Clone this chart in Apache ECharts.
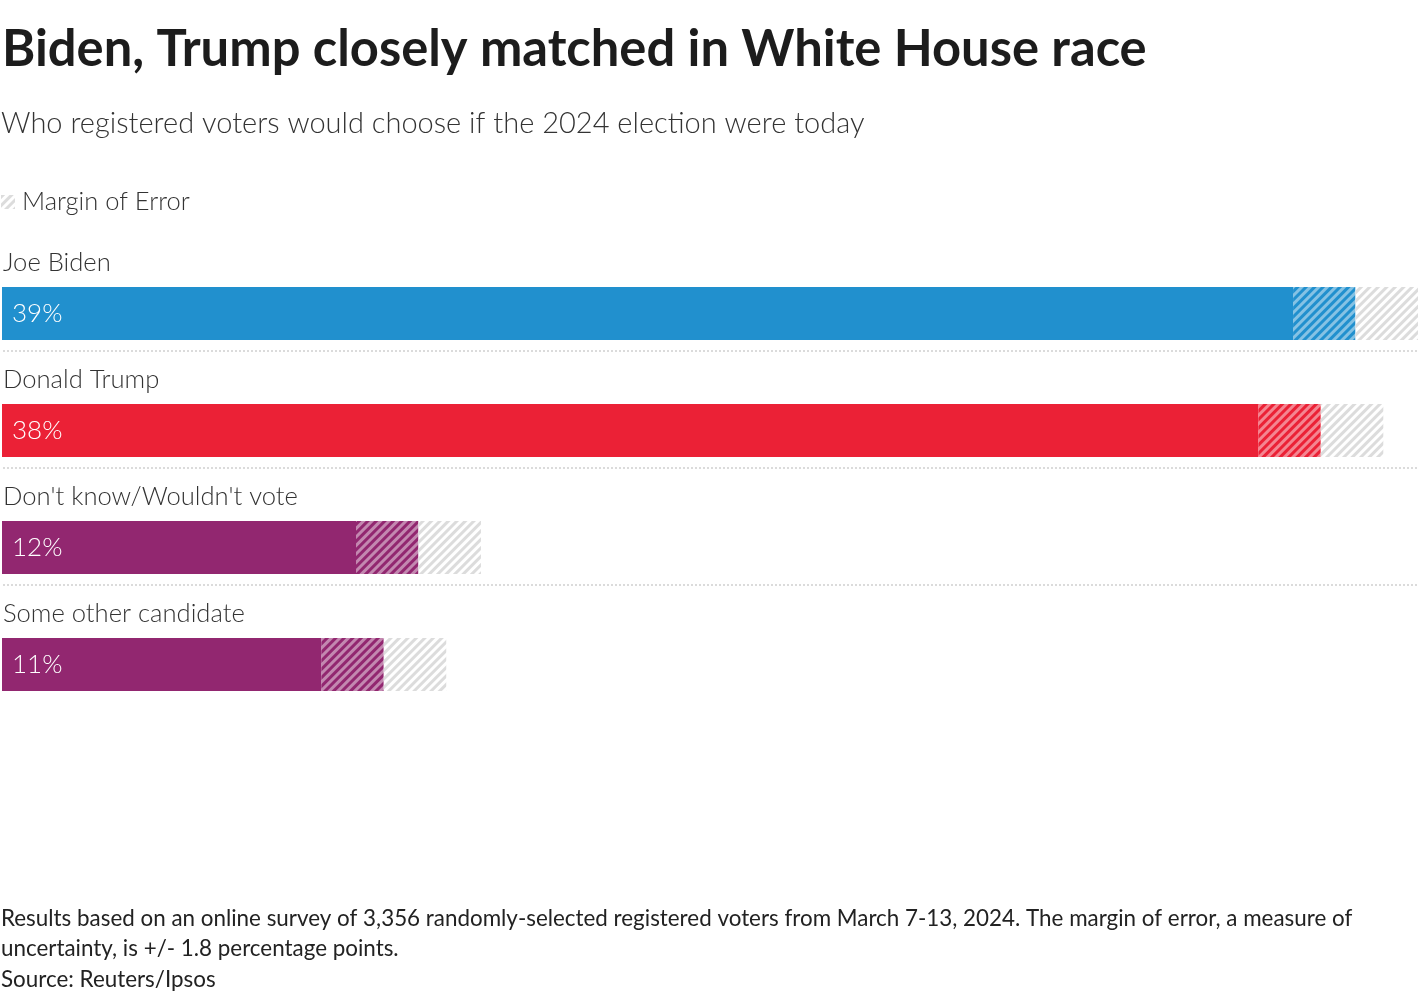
<!DOCTYPE html>
<html><head><meta charset="utf-8">
<script src="https://cdn.jsdelivr.net/npm/echarts@6/dist/echarts.min.js"></script>
<style>html,body{margin:0;padding:0;background:#fff}#c{width:1420px;height:1000px}</style>
</head><body><div id="c"></div>
<script>
const categories = ["Joe Biden", "Donald Trump", "Don't know/Wouldn't vote", "Some other candidate"];
const values = [39, 38, 12, 11];
const marginOfError = 1.8;
const barColors = ["#2190ce", "#eb2136", "#922770", "#922770"];
const titleText = "Biden, Trump closely matched in White House race";
const subtitleText = "Who registered voters would choose if the 2024 election were today";
const noteText = "Results based on an online survey of 3,356 randomly-selected registered voters from March 7-13, 2024. The margin of error, a measure of\nuncertainty, is +/- 1.8 percentage points.";
const sourceText = "Source: Reuters/Ipsos";

const FONT = "Lato";
const chart = echarts.init(document.getElementById('c'));

const solid = values.map((v, i) => ({ value: v - marginOfError, itemStyle: { color: barColors[i] } }));
const inner = values.map((v, i) => ({ value: marginOfError, itemStyle: { color: barColors[i] } }));
const outer = values.map(() => marginOfError);

chart.setOption({
  backgroundColor: '#fff',
  animation: false,
  title: [
    { text: titleText, left: -3, top: 19, textStyle: { fontFamily: FONT, fontWeight: 'bold', fontSize: 50.7, color: '#1c1c1c' } },
    { text: subtitleText, left: -4, top: 104, textStyle: { fontFamily: FONT, fontWeight: 300, fontSize: 29, color: '#333' } },
    { text: noteText, left: -4, top: 899, textStyle: { fontFamily: FONT, fontWeight: 'normal', fontSize: 22.4, lineHeight: 30, color: '#222' } },
    { text: sourceText, left: -4, top: 964, textStyle: { fontFamily: FONT, fontWeight: 'normal', fontSize: 22.4, color: '#222' } }
  ],
  legend: {
    left: -4, top: 184, itemWidth: 14, itemHeight: 14, itemGap: 10,
    data: [{ name: 'Margin of Error', icon: 'rect' }],
    textStyle: { fontFamily: FONT, fontWeight: 300, fontSize: 25.5, color: '#333', padding: [0, 0, 0, 2] },
    selectedMode: false
  },
  grid: [
    { left: 2, right: 2, top: 255, height: 468 },
    { left: 2, right: 2, top: 234, height: 468 }
  ],
  xAxis: [
    { gridIndex: 0, type: 'value', min: 0, max: 40.8, show: false },
    { gridIndex: 1, type: 'value', min: 0, max: 40.8, show: false }
  ],
  yAxis: [
    { gridIndex: 0, type: 'category', inverse: true, data: categories,
      axisLine: { show: false }, axisTick: { show: false }, splitLine: { show: false }, axisLabel: { show: false } },
    { gridIndex: 1, type: 'category', inverse: true, data: categories, z: 5,
      axisLine: { show: false }, axisTick: { show: false },
      axisLabel: { show: true, interval: 0, inside: true, margin: 0, align: 'left', verticalAlign: 'middle', lineHeight: 59,
        formatter: v => v + '\n ',
        fontFamily: FONT, fontWeight: 300, fontSize: 25.6, color: '#333' },
      splitLine: { show: true, showMinLine: false, showMaxLine: false, lineStyle: { type: [2, 2], color: '#cfcfcf', width: 1.5 } } }
  ],
  series: [
    { type: 'bar', stack: 's', barWidth: 53, data: solid, silent: true,
      label: { show: true, position: 'insideLeft', distance: 10, color: '#fff', fontFamily: FONT, fontWeight: 300, fontSize: 26,
        formatter: p => values[p.dataIndex] + '%' } },
    { type: 'bar', stack: 's', barWidth: 53, data: inner, silent: true,
      itemStyle: { decal: { symbol: 'rect', dashArrayX: [1, 0], dashArrayY: [3, 3], rotation: -Math.PI / 4, color: 'rgba(255,255,255,0.45)' } } },
    { name: 'Margin of Error', type: 'bar', stack: 's', barWidth: 53, data: outer, silent: true,
      itemStyle: { color: '#ffffff', decal: { symbol: 'rect', dashArrayX: [1, 0], dashArrayY: [3, 3], rotation: -Math.PI / 4, color: '#dcdcdc' } } }
  ]
});
</script></body></html>
